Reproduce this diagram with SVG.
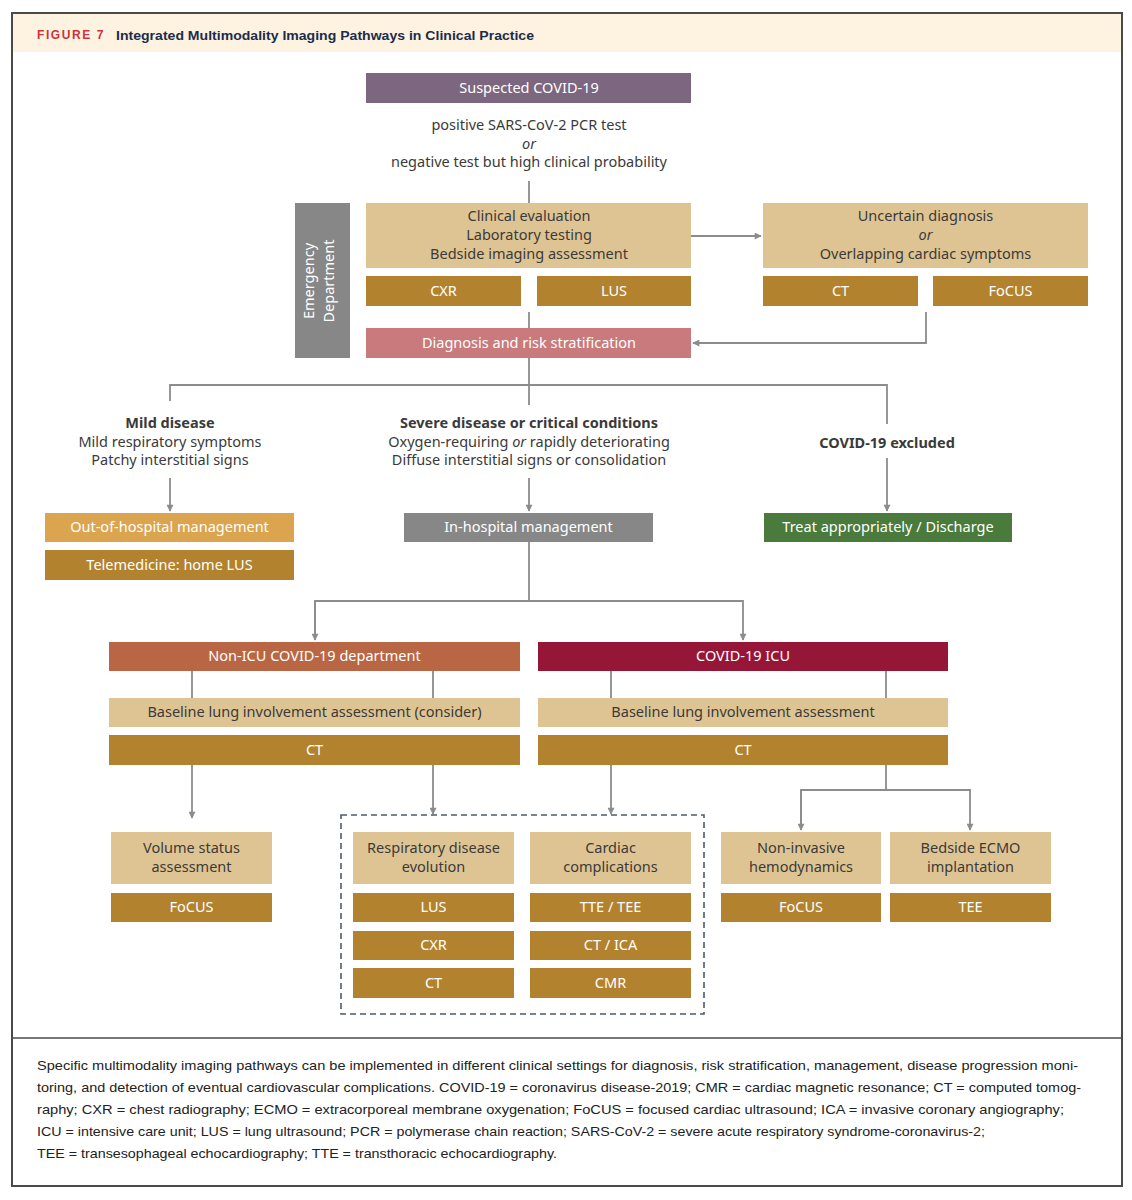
<svg xmlns="http://www.w3.org/2000/svg" width="1132" height="1200" viewBox="0 0 1132 1200">
<defs>
<style>
.t{font-family:"Noto Sans","Liberation Sans",sans-serif;font-size:14.5px;fill:#3a3a3a;text-anchor:middle}
.w{fill:#ffffff}
.bd{font-weight:bold}
.it{font-style:italic}
.tan{fill:#dfc493}
.brn{fill:#b3822e}
.ln{fill:none;stroke:#8c8c8c;stroke-width:1.8}
.cap{font-family:"Liberation Sans","Noto Sans",sans-serif;font-size:13px;fill:#222}
</style>
<marker id="ah" viewBox="0 0 10 10" refX="9" refY="5" markerWidth="8" markerHeight="7" orient="auto" markerUnits="userSpaceOnUse">
<path d="M0,0 L10,5 L0,10 z" fill="#8c8c8c"/>
</marker>
</defs>
<rect x="0" y="0" width="1132" height="1200" fill="#ffffff"/>
<rect x="12" y="13" width="1110" height="1173" fill="#ffffff" stroke="#4a4a4a" stroke-width="2"/>
<rect x="13" y="14" width="1108" height="38" fill="#fdf3e0"/>
<line x1="12" y1="1038" x2="1122" y2="1038" stroke="#4a4a4a" stroke-width="1.5"/>
<g id="header">
<text x="37" y="39" font-family="Liberation Sans,sans-serif" font-size="12" font-weight="bold" fill="#d0313c" letter-spacing="1.6">FIGURE 7</text>
<text x="116" y="39.5" font-family="Liberation Sans,sans-serif" font-size="13.5" font-weight="bold" fill="#1c2c4c" textLength="418" lengthAdjust="spacingAndGlyphs">Integrated Multimodality Imaging Pathways in Clinical Practice</text>
</g>

<g id="connectors">
<path class="ln" d="M529,181 V203"/>
<path class="ln" d="M691,236 H761" marker-end="url(#ah)"/>
<path class="ln" d="M926,312 V343 H693" marker-end="url(#ah)"/>
<path class="ln" d="M529,312 V328"/>
<path class="ln" d="M529,358 V405"/>
<path class="ln" d="M170,401 V385 H887 V424"/>
<path class="ln" d="M887,458 V511" marker-end="url(#ah)"/>
<path class="ln" d="M170,478 V511" marker-end="url(#ah)"/>
<path class="ln" d="M529,478 V511" marker-end="url(#ah)"/>
<path class="ln" d="M529,542 V601"/>
<path class="ln" d="M315,640 V601 H743 V640" marker-end="url(#ah)"/>
<path class="ln" d="M315,601 V640" marker-end="url(#ah)"/>
<path class="ln" d="M192,671 V698 M433,671 V698 M611,671 V698 M886,671 V698"/>
<path class="ln" d="M192,765 V818" marker-end="url(#ah)"/>
<path class="ln" d="M433,765 V814" marker-end="url(#ah)"/>
<path class="ln" d="M611,765 V814" marker-end="url(#ah)"/>
<path class="ln" d="M886,765 V790"/>
<path class="ln" d="M801,830 V790 H970 V830" marker-end="url(#ah)"/>
<path class="ln" d="M801,790 V830" marker-end="url(#ah)"/>
</g>

<g id="suspected">
<rect x="366" y="73" width="325" height="30" fill="#7d6680"/>
<text class="t w" x="529" y="93">Suspected COVID-19</text>
</g>
<g id="criteria">
<text class="t" x="529" y="130">positive SARS-CoV-2 PCR test</text>
<text class="t it" x="529" y="149">or</text>
<text class="t" x="529" y="167">negative test but high clinical probability</text>
</g>
<g id="emergency">
<rect x="295" y="203" width="55" height="155" fill="#878787"/>
<g transform="translate(322,281) rotate(-90)">
<text class="t w" x="0" y="-8">Emergency</text>
<text class="t w" x="0" y="12">Department</text>
</g>
</g>
<g id="clinical">
<rect class="tan" x="366" y="203" width="325" height="65"/>
<text class="t" x="529" y="221">Clinical evaluation</text>
<text class="t" x="529" y="240">Laboratory testing</text>
<text class="t" x="529" y="259">Bedside imaging assessment</text>
</g>
<g id="ed-cxr"><rect class="brn" x="366" y="276" width="155" height="30"/><text class="t w" x="443.5" y="296">CXR</text></g>
<g id="ed-lus"><rect class="brn" x="537" y="276" width="154" height="30"/><text class="t w" x="614" y="296">LUS</text></g>
<g id="uncertain">
<rect class="tan" x="763" y="203" width="325" height="65"/>
<text class="t" x="925.5" y="221">Uncertain diagnosis</text>
<text class="t it" x="925.5" y="240">or</text>
<text class="t" x="925.5" y="259">Overlapping cardiac symptoms</text>
</g>
<g id="un-ct"><rect class="brn" x="763" y="276" width="155" height="30"/><text class="t w" x="840.5" y="296">CT</text></g>
<g id="un-focus"><rect class="brn" x="933" y="276" width="155" height="30"/><text class="t w" x="1010.5" y="296">FoCUS</text></g>
<g id="diagnosis">
<rect x="366" y="328" width="325" height="30" fill="#c97a7c"/>
<text class="t w" x="529" y="348">Diagnosis and risk stratification</text>
</g>
<g id="mild">
<text class="t bd" x="170" y="428">Mild disease</text>
<text class="t" x="170" y="447">Mild respiratory symptoms</text>
<text class="t" x="170" y="465">Patchy interstitial signs</text>
</g>
<g id="severe">
<text class="t bd" x="529" y="428">Severe disease or critical conditions</text>
<text class="t" x="529" y="447">Oxygen-requiring <tspan class="it">or</tspan> rapidly deteriorating</text>
<text class="t" x="529" y="465">Diffuse interstitial signs or consolidation</text>
</g>
<g id="excluded">
<text class="t bd" x="887" y="448">COVID-19 excluded</text>
</g>
<g id="out-hospital"><rect x="45" y="513" width="249" height="29" fill="#dba44f"/><text class="t w" x="169.5" y="532">Out-of-hospital management</text></g>
<g id="telemedicine"><rect class="brn" x="45" y="550" width="249" height="30"/><text class="t w" x="169.5" y="570">Telemedicine: home LUS</text></g>
<g id="in-hospital"><rect x="404" y="513" width="249" height="29" fill="#878787"/><text class="t w" x="528.5" y="532">In-hospital management</text></g>
<g id="treat"><rect x="764" y="513" width="248" height="29" fill="#4a7a3c"/><text class="t w" x="888" y="532">Treat appropriately / Discharge</text></g>

<g id="non-icu"><rect x="109" y="642" width="411" height="29" fill="#b96644"/><text class="t w" x="314.5" y="661">Non-ICU COVID-19 department</text></g>
<g id="icu"><rect x="538" y="642" width="410" height="29" fill="#961638"/><text class="t w" x="743" y="661">COVID-19 ICU</text></g>
<g id="baseline-1"><rect class="tan" x="109" y="698" width="411" height="29"/><text class="t" x="314.5" y="717">Baseline lung involvement assessment (consider)</text></g>
<g id="baseline-2"><rect class="tan" x="538" y="698" width="410" height="29"/><text class="t" x="743" y="717">Baseline lung involvement assessment</text></g>
<g id="ct-1"><rect class="brn" x="109" y="735" width="411" height="30"/><text class="t w" x="314.5" y="755">CT</text></g>
<g id="ct-2"><rect class="brn" x="538" y="735" width="410" height="30"/><text class="t w" x="743" y="755">CT</text></g>

<g id="follow-up">
<rect x="341" y="815" width="363" height="199" fill="none" stroke="#4d5b6b" stroke-width="1.6" stroke-dasharray="6,4"/>
</g>
<g id="volume">
<rect class="tan" x="111" y="832" width="161" height="52"/>
<text class="t" x="191.5" y="853">Volume status</text>
<text class="t" x="191.5" y="872">assessment</text>
</g>
<g id="vol-focus"><rect class="brn" x="111" y="893" width="161" height="29"/><text class="t w" x="191.5" y="912">FoCUS</text></g>
<g id="respiratory">
<rect class="tan" x="353" y="832" width="161" height="52"/>
<text class="t" x="433.5" y="853">Respiratory disease</text>
<text class="t" x="433.5" y="872">evolution</text>
</g>
<g id="resp-lus"><rect class="brn" x="353" y="893" width="161" height="29"/><text class="t w" x="433.5" y="912">LUS</text></g>
<g id="resp-cxr"><rect class="brn" x="353" y="931" width="161" height="29"/><text class="t w" x="433.5" y="950">CXR</text></g>
<g id="resp-ct"><rect class="brn" x="353" y="968" width="161" height="30"/><text class="t w" x="433.5" y="988">CT</text></g>
<g id="cardiac">
<rect class="tan" x="530" y="832" width="161" height="52"/>
<text class="t" x="610.5" y="853">Cardiac</text>
<text class="t" x="610.5" y="872">complications</text>
</g>
<g id="card-tte"><rect class="brn" x="530" y="893" width="161" height="29"/><text class="t w" x="610.5" y="912">TTE / TEE</text></g>
<g id="card-ct"><rect class="brn" x="530" y="931" width="161" height="29"/><text class="t w" x="610.5" y="950">CT / ICA</text></g>
<g id="card-cmr"><rect class="brn" x="530" y="968" width="161" height="30"/><text class="t w" x="610.5" y="988">CMR</text></g>
<g id="noninvasive">
<rect class="tan" x="721" y="832" width="160" height="52"/>
<text class="t" x="801" y="853">Non-invasive</text>
<text class="t" x="801" y="872">hemodynamics</text>
</g>
<g id="ni-focus"><rect class="brn" x="721" y="893" width="160" height="29"/><text class="t w" x="801" y="912">FoCUS</text></g>
<g id="ecmo">
<rect class="tan" x="890" y="832" width="161" height="52"/>
<text class="t" x="970.5" y="853">Bedside ECMO</text>
<text class="t" x="970.5" y="872">implantation</text>
</g>
<g id="ecmo-tee"><rect class="brn" x="890" y="893" width="161" height="29"/><text class="t w" x="970.5" y="912">TEE</text></g>

<g id="caption">
<text class="cap" x="37" y="1070" textLength="1041" lengthAdjust="spacingAndGlyphs">Specific multimodality imaging pathways can be implemented in different clinical settings for diagnosis, risk stratification, management, disease progression moni-</text>
<text class="cap" x="37" y="1092" textLength="1044" lengthAdjust="spacingAndGlyphs">toring, and detection of eventual cardiovascular complications. COVID-19 = coronavirus disease-2019; CMR = cardiac magnetic resonance; CT = computed tomog-</text>
<text class="cap" x="37" y="1114" textLength="1027" lengthAdjust="spacingAndGlyphs">raphy; CXR = chest radiography; ECMO = extracorporeal membrane oxygenation; FoCUS = focused cardiac ultrasound; ICA = invasive coronary angiography;</text>
<text class="cap" x="37" y="1136" textLength="948" lengthAdjust="spacingAndGlyphs">ICU = intensive care unit; LUS = lung ultrasound; PCR = polymerase chain reaction; SARS-CoV-2 = severe acute respiratory syndrome-coronavirus-2;</text>
<text class="cap" x="37" y="1158" textLength="520" lengthAdjust="spacingAndGlyphs">TEE = transesophageal echocardiography; TTE = transthoracic echocardiography.</text>
</g>
</svg>
